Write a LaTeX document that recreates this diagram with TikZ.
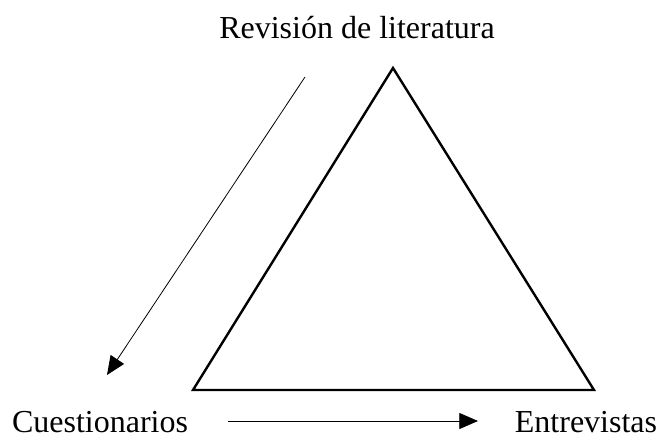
\documentclass[tikz,border=0pt]{standalone}
\usepackage{fontspec}
\setmainfont{Liberation Serif}
\usetikzlibrary{arrows.meta, positioning}

\begin{document}
\begin{tikzpicture}[x=0.75pt, y=-0.75pt,
    lbl/.style={anchor=base, inner sep=0pt, font=\fontsize{24}{28}\selectfont},
    side/.style={line width=1.8pt, line join=miter},
    flow/.style={line width=0.6pt, -{Triangle[length=14pt, width=12pt]}}]
    \useasboundingbox (0,0) rectangle (662,443);

    %labels
    \node at (357, 38) [lbl] (rev) {Revisión de literatura};
    \node at (100, 432) [lbl] (cue) {Cuestionarios};
    \node at (586, 432) [lbl] (ent) {Entrevistas};

    %triangle
    \coordinate (top) at (393, 68);
    \coordinate (bl) at (193, 390);
    \coordinate (br) at (594, 390);
    \draw[side] (top) -- (bl) -- (br) -- cycle;

    %arrows
    \coordinate (a1) at (305, 77);
    \coordinate (a2) at (107, 375);
    \draw[flow] (a1) -- (a2);

    \coordinate (b1) at (228, 421);
    \coordinate (b2) at (478, 421);
    \draw[flow] (b1) -- (b2);
\end{tikzpicture}
\end{document}
